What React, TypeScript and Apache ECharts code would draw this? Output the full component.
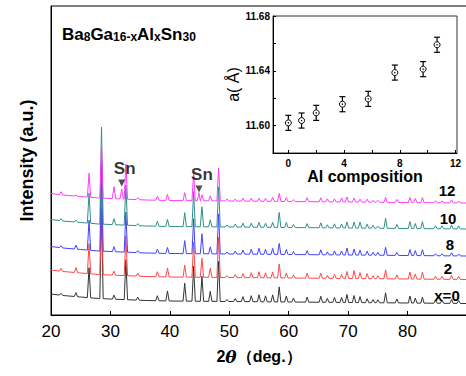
import React, { useEffect, useRef } from "react";
import * as echarts from "echarts";

// ---- Main XRD pattern data (2θ in degrees, intensities in arbitrary units) ----
const peakAngles = [21.7, 24.2, 26.4, 28.5, 30.6, 31.9, 32.6, 34.6, 37.9, 39.6, 42.5, 44.0, 44.9, 45.4, 46.8, 48.2, 49.6, 51.0, 52.3, 53.7, 55.0, 56.1, 57.3, 58.4, 59.6, 60.8, 63.1, 65.4, 66.5, 67.7, 68.9, 69.8, 71.0, 72.0, 73.2, 74.2, 75.0, 76.3, 78.2, 80.4, 81.3, 82.5, 84.7, 85.8, 87.4, 88.6];

const heightsX0 = [2, 4, 30, 90, 4, 0, 40, 3, 5, 10, 18, 35, 0, 25, 10, 40, 2, 3, 5, 6, 7, 6, 7, 15, 6, 4, 5, 6, 4, 5, 5, 8, 7, 6, 4, 3, 3, 10, 4, 7, 5, 6, 3, 3, 4, 3];
const heightsX2 = [3, 5, 30, 90, 4, 0, 40, 3, 5, 9, 12, 35, 0, 19, 9, 40, 2, 3, 4, 5, 6, 5, 6, 14, 5, 3, 5, 5, 3, 4, 4, 7, 8, 6, 5, 3, 3, 9, 4, 7, 5, 7, 3, 3, 4, 3];
const heightsX8 = [2, 4, 30, 90, 5, 0, 40, 2, 4, 6, 13, 35, 0, 20, 7, 40, 2, 3, 4, 5, 6, 5, 6, 11, 5, 3, 4, 5, 3, 4, 4, 7, 6, 5, 4, 3, 3, 8, 3, 6, 5, 6, 2, 2, 3, 2];
const heightsX10 = [2, 2, 30, 97, 6, 0, 40, 2, 5, 7, 14, 35, 0, 20, 7, 40, 2, 3, 4, 4, 5, 4, 5, 15, 5, 3, 4, 5, 3, 4, 4, 6, 6, 6, 4, 3, 2, 10, 4, 7, 5, 7, 3, 3, 4, 3];
const heightsX12 = [3, 1, 24, 55, 12, 10, 35, 2, 4, 6, 8, 28, 8, 6, 5, 33, 2, 2, 3, 3, 3, 3, 4, 8, 4, 2, 4, 4, 3, 3, 4, 5, 4, 3, 3, 2, 2, 5, 3, 5, 4, 5, 2, 2, 3, 2];

// background level of the x=0 pattern, and vertical offsets of each stacked pattern
const baseAngles = [20, 22, 25, 28, 36, 40, 60, 90];
const baseLevels = [21, 19.5, 18, 16.5, 14.5, 14, 13, 11.5];
const traceOffsets = [0, 24, 47.5, 74.5, 100.5];
const traceLabels = ["x=0", "2", "8", "10", "12"];
const traceColors = ["#333333", "#ff4848", "#4242ff", "#2f9088", "#ff3cff"];
const traceHeights = [heightsX0, heightsX2, heightsX8, heightsX10, heightsX12];

// Sn impurity peak markers
const snAngles = [31.9, 44.9];
const snLevels = [132, 126];

// ---- Inset: lattice parameter vs Al composition ----
const alComp = [0, 0.95, 2.0, 3.88, 5.73, 7.64, 9.67, 10.67];
const latticeA = [11.602, 11.6037, 11.6093, 11.6156, 11.6195, 11.6387, 11.6412, 11.659];
const latticeErr = [0.0055, 0.0055, 0.0055, 0.0055, 0.0055, 0.0055, 0.0055, 0.0055];

const FONT = "'Liberation Sans', Arial, Helvetica, sans-serif";

function baseAt(a: number): number {
  for (let i = 0; i < baseAngles.length - 1; i++) {
    if (a <= baseAngles[i + 1]) {
      const t = (a - baseAngles[i]) / (baseAngles[i + 1] - baseAngles[i]);
      return baseLevels[i] + t * (baseLevels[i + 1] - baseLevels[i]);
    }
  }
  return baseLevels[baseLevels.length - 1];
}

function traceData(heights: number[], off: number): number[][] {
  const w = 0.28;
  const pts: number[][] = [];
  baseAngles.forEach((a) => pts.push([a, baseAt(a) + off]));
  peakAngles.forEach((a, i) => {
    const h = heights[i];
    if (h > 0) {
      pts.push([a - w, baseAt(a - w) + off]);
      pts.push([a, baseAt(a) + off + h]);
      pts.push([a + w, baseAt(a + w) + off]);
    }
  });
  pts.sort((p, q) => p[0] - q[0]);
  return pts;
}

export default function App() {
  const ref = useRef<HTMLDivElement>(null);

  useEffect(() => {
    if (!ref.current) return;
    const chart = echarts.init(ref.current, null, { renderer: "svg" });

    const traceSeries = traceHeights.map((h, i) => ({
      type: "line",
      name: traceLabels[i],
      xAxisIndex: 0,
      yAxisIndex: 0,
      data: traceData(h, traceOffsets[i]),
      showSymbol: false,
      symbol: "none",
      lineStyle: { color: traceColors[i], width: 1 },
      z: 2 + i,
      silent: true,
    }));

    const option: any = {
      animation: false,
      backgroundColor: "#ffffff",
      textStyle: { fontFamily: FONT },
      grid: [
        {
          left: 51,
          top: 6,
          width: 416,
          height: 309,
          show: true,
          borderColor: "#000",
          borderWidth: 1,
          outerBoundsMode: "none",
          containLabel: false,
        },
        {
          left: 273,
          top: 16,
          width: 184,
          height: 137,
          show: true,
          backgroundColor: "#ffffff",
          borderColor: "#333",
          borderWidth: 1,
          outerBoundsMode: "none",
          containLabel: false,
          z: 10,
        },
      ],
      xAxis: [
        {
          type: "value",
          gridIndex: 0,
          min: 20,
          max: 90,
          interval: 10,
          axisLine: { show: true, onZero: false, lineStyle: { color: "#000", width: 1 } },
          axisTick: { show: true, inside: true, length: 4, lineStyle: { color: "#000" } },
          axisLabel: {
            interval: 1,
            showMaxLabel: false,
            fontSize: 17,
            color: "#000",
            margin: 8,
            fontFamily: FONT,
          },
          splitLine: { show: false },
          name: "2{i|θ}（deg.）",
          nameLocation: "middle",
          nameGap: 33,
          nameTextStyle: {
            fontSize: 16,
            fontWeight: "bold",
            color: "#000",
            fontFamily: FONT,
            rich: {
              i: { fontSize: 17, fontStyle: "italic", fontWeight: "bold", fontFamily: "'DejaVu Serif', serif" },
            },
          },
        },
        {
          type: "value",
          gridIndex: 1,
          min: -1.1,
          max: 12.1,
          axisLine: { show: true, onZero: false, lineStyle: { color: "#000", width: 1 } },
          axisTick: { show: true, inside: true, length: 3, customValues: [0, 2, 4, 6, 8, 10, 12], lineStyle: { color: "#000" } },
          axisLabel: {
            customValues: [0, 4, 8, 12],
            fontSize: 10,
            fontWeight: "bold",
            color: "#000",
            margin: 5,
            fontFamily: FONT,
          },
          splitLine: { show: false },
          name: "Al composition",
          nameLocation: "middle",
          nameGap: 15,
          nameTextStyle: { fontSize: 16, fontWeight: "bold", color: "#000", fontFamily: FONT },
          z: 10,
        },
      ],
      yAxis: [
        {
          type: "value",
          gridIndex: 0,
          min: 0,
          max: 309,
          axisLine: { show: true, onZero: false, lineStyle: { color: "#000", width: 1 } },
          axisTick: { show: false },
          axisLabel: { show: false },
          splitLine: { show: false },
          name: "Intensity (a.u.)",
          nameLocation: "middle",
          nameGap: 15,
          nameTextStyle: { fontSize: 18, fontWeight: "bold", color: "#000", fontFamily: FONT },
        },
        {
          type: "value",
          gridIndex: 1,
          min: 11.58,
          max: 11.68,
          interval: 0.02,
          axisLine: { show: true, onZero: false, lineStyle: { color: "#000", width: 1 } },
          axisTick: { show: true, inside: true, length: 3, lineStyle: { color: "#000" } },
          axisLabel: {
            fontSize: 10,
            fontWeight: "bold",
            color: "#000",
            margin: 3,
            fontFamily: FONT,
            formatter: (v: number) => {
              const k = Math.round(v * 100);
              return k % 4 === 0 ? (k / 100).toFixed(2) : "";
            },
          },
          splitLine: { show: false },
          name: "a( Å)",
          nameLocation: "middle",
          nameGap: 24,
          nameTextStyle: { fontSize: 16, color: "#000", fontFamily: FONT },
          z: 10,
        },
      ],
      series: [
        ...traceSeries,
        {
          type: "scatter",
          name: "Sn",
          xAxisIndex: 0,
          yAxisIndex: 0,
          data: snAngles.map((a, i) => [a, snLevels[i]]),
          symbol: "triangle",
          symbolRotate: 180,
          symbolSize: [7, 7],
          itemStyle: { color: "#222" },
          label: {
            show: true,
            formatter: "Sn",
            position: "top",
            distance: 3,
            offset: [3, 0],
            fontSize: 17,
            fontWeight: "bold",
            color: "#000",
            fontFamily: FONT,
          },
          z: 8,
          silent: true,
        },
        {
          type: "custom",
          name: "error",
          xAxisIndex: 1,
          yAxisIndex: 1,
          data: alComp.map((x, i) => [x, latticeA[i], latticeErr[i]]),
          renderItem: (params: any, api: any) => {
            const x = api.value(0);
            const y = api.value(1);
            const e = api.value(2);
            const top = api.coord([x, y + e]);
            const bot = api.coord([x, y - e]);
            const c = api.coord([x, y]);
            const cap = 3;
            const st = { stroke: "#000", lineWidth: 1.2 };
            return {
              type: "group",
              children: [
                { type: "line", shape: { x1: top[0], y1: top[1], x2: c[0], y2: c[1] - 3 }, style: st },
                { type: "line", shape: { x1: c[0], y1: c[1] + 3, x2: bot[0], y2: bot[1] }, style: st },
                { type: "line", shape: { x1: top[0] - cap, y1: top[1], x2: top[0] + cap, y2: top[1] }, style: st },
                { type: "line", shape: { x1: bot[0] - cap, y1: bot[1], x2: bot[0] + cap, y2: bot[1] }, style: st },
                { type: "circle", shape: { cx: c[0], cy: c[1], r: 3 }, style: { fill: "#fff", stroke: "#000", lineWidth: 1 } },
                { type: "circle", shape: { cx: c[0], cy: c[1], r: 0.7 }, style: { fill: "#000" } },
              ],
            };
          },
          z: 12,
          silent: true,
        },
      ],
      graphic: [
        {
          type: "text",
          left: 62,
          top: 26,
          z: 20,
          style: {
            text: "{m|Ba}{s|8}{m|Ga}{s|16-x}{m|Al}{s|x}{m|Sn}{s|30}",
            fill: "#000",
            rich: {
              m: { fontSize: 17, fontWeight: "bold", fontFamily: FONT, lineHeight: 17, verticalAlign: "top", padding: [0, 0, 3, 0] },
              s: { fontSize: 12, fontWeight: "bold", fontFamily: FONT, lineHeight: 12, verticalAlign: "bottom" },
            },
          },
        },
        ...traceLabels.map((t, i) => ({
          type: "text",
          x: [447, 448, 450, 448, 447][i],
          y: [295, 268, 244, 218, 190][i],
          z: 20,
          style: {
            text: t,
            fill: "#000",
            fontSize: 15,
            fontWeight: "bold",
            fontFamily: FONT,
            align: "center",
            verticalAlign: "middle",
          },
        })),
      ],
    };

    chart.setOption(option);
    return () => chart.dispose();
  }, []);

  return (
    <div
      ref={ref}
      style={{ position: "absolute", left: 0, top: 0, width: 466, height: 376 }}
    />
  );
}
